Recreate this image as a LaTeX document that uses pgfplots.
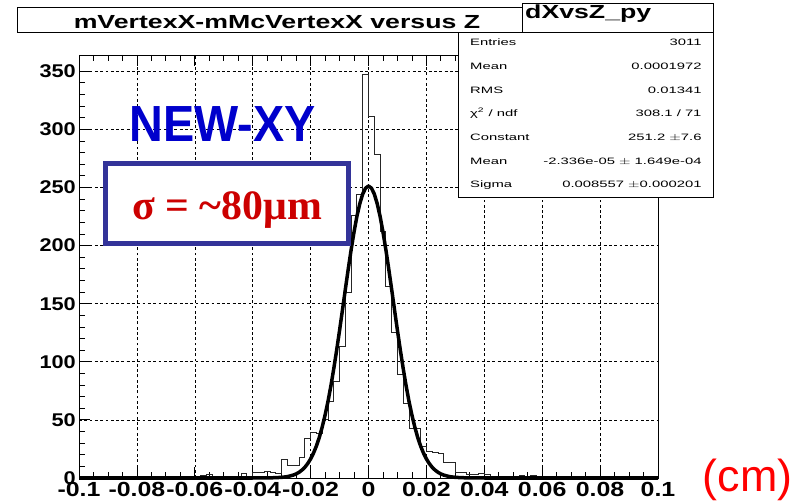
\documentclass[border=0pt]{standalone}
\usepackage{pgfplots}
\pgfplotsset{compat=1.18}
\usepackage{fontspec}
\usepackage{graphicx}
\setmainfont{Liberation Sans}
\newfontfamily\timesf{Liberation Serif}
\definecolor{boxblue}{RGB}{51,51,153}
\definecolor{newblue}{RGB}{0,0,204}
\definecolor{sigred}{RGB}{204,0,0}
\newcommand\xl[1]{\scalebox{1.22}[1]{#1}}
\newcommand\yl[1]{\scalebox{1.18}[1]{#1}}
\newcommand\st[1]{\scalebox{1.6}[1]{#1}}
\begin{document}
\begin{tikzpicture}
\path[use as bounding box] (0,0) rectangle (806bp,504bp);
\begin{axis}[
  at={(79bp,26bp)}, anchor=south west, scale only axis,
  width=579bp, height=423bp,
  xmin=-0.1, xmax=0.1, ymin=0, ymax=364,
  xtick={-0.1,-0.08,-0.06,-0.04,-0.02,0,0.02,0.04,0.06,0.08,0.1},
  xticklabels={\xl{-0.1},\xl{-0.08},\xl{-0.06},\xl{-0.04},\xl{-0.02},\xl{0},\xl{0.02},\xl{0.04},\xl{0.06},\xl{0.08},\xl{0.1}},
  ytick={0,50,100,150,200,250,300,350},
  yticklabels={\yl{0},\yl{50},\yl{100},\yl{150},\yl{200},\yl{250},\yl{300},\yl{350}},
  minor x tick num=3, minor y tick num=4,
  xticklabel style={font=\bfseries\fontsize{20.5}{20.5}\selectfont, inner sep=0pt, anchor=north, yshift=-3.7bp},
  yticklabel style={font=\bfseries\fontsize{18.5}{18.5}\selectfont, inner sep=0pt, anchor=east, xshift=-3bp},
  tick align=inside, ytick pos=left, xtick pos=both,
  major tick length=11bp, minor tick length=6bp,
  tick style={black, line width=0.8bp},
  axis line style={black, line width=0.8bp},
  grid=major,
  major grid style={black, dash pattern=on 2.8bp off 2.5bp, line width=0.6bp},
  clip=false,
]
\addplot[const plot mark left, black!85, line width=0.9bp, mark=none] coordinates {
(-0.100,0) (-0.058,2) (-0.056,3) (-0.054,0) (-0.052,1) (-0.050,1) (-0.048,0)
(-0.046,1) (-0.044,4) (-0.042,1) (-0.040,5) (-0.038,5) (-0.036,6) (-0.034,5)
(-0.032,4) (-0.030,16) (-0.028,11) (-0.026,11) (-0.024,18) (-0.022,34) (-0.020,39)
(-0.018,38) (-0.016,50) (-0.014,66) (-0.012,83) (-0.010,113) (-0.008,160)
(-0.006,226) (-0.004,244) (-0.002,347) (0.000,311) (0.002,278) (0.004,212)
(0.006,165) (0.008,125) (0.010,89) (0.012,64) (0.014,43) (0.016,43) (0.018,27)
(0.020,23) (0.022,22) (0.024,21) (0.026,13) (0.028,13) (0.030,5) (0.032,5)
(0.034,3) (0.036,3) (0.038,4) (0.040,3) (0.042,0) (0.044,1) (0.046,0) (0.050,1)
(0.052,2) (0.054,1) (0.056,2) (0.058,0) (0.074,1) (0.076,0) (0.100,0)
};
\addplot[black, line width=3.5bp, mark=none, line join=round] coordinates {
(-0.1,0) (-0.04,0) (-0.034,0.1) (-0.030,0.54) (-0.028,1.19) (-0.026,2.5) (-0.025,3.5)
(-0.024,4.9) (-0.023,6.8) (-0.022,9.2) (-0.021,12.4) (-0.020,16.4) (-0.019,21.4)
(-0.018,27.5) (-0.017,34.9) (-0.016,43.8) (-0.015,54.1) (-0.014,65.8) (-0.013,79.2)
(-0.012,94.0) (-0.011,110.0) (-0.010,126.9) (-0.009,144.5) (-0.008,162.3)
(-0.007,179.8) (-0.006,196.4) (-0.005,211.7) (-0.004,225.2) (-0.003,236.1)
(-0.002,244.4) (-0.001,249.5) (0,251.2)
(0.001,249.5) (0.002,244.4) (0.003,236.1) (0.004,225.2) (0.005,211.7) (0.006,196.4)
(0.007,179.8) (0.008,162.3) (0.009,144.5) (0.010,126.9) (0.011,110.0) (0.012,94.0)
(0.013,79.2) (0.014,65.8) (0.015,54.1) (0.016,43.8) (0.017,34.9) (0.018,27.5)
(0.019,21.4) (0.020,16.4) (0.021,12.4) (0.022,9.2) (0.023,6.8) (0.024,4.9)
(0.025,3.5) (0.026,2.5) (0.028,1.19) (0.030,0.54) (0.034,0.1) (0.04,0) (0.1,0)
};
\end{axis}
% NEW-XY label and sigma box
\node[anchor=base, text=newblue, font=\bfseries\fontsize{51}{51}\selectfont, inner sep=0pt] at (222.5bp,362bp) {\scalebox{0.92}[1]{NEW-XY}};
\draw[boxblue, line width=5bp, fill=white] (105.5bp,260bp) rectangle (348.5bp,340.7bp);
\node[anchor=base, text=sigred, font=\timesf\bfseries\fontsize{42}{42}\selectfont, inner sep=0pt] at (227bp,284bp) {σ = \textasciitilde80μm};
% unit
\node[anchor=base, text=red, font=\fontsize{45}{45}\selectfont, inner sep=0pt] at (747.5bp,13bp) {(cm)};
% title box
\draw[black, line width=0.8bp, fill=white] (17bp,472bp) rectangle (522bp,497bp);
\node[anchor=base, font=\bfseries\fontsize{19}{19}\selectfont, inner sep=0pt] at (277bp,475.7bp) {\scalebox{1.41}[1]{mVertexX-mMcVertexX versus Z}};
% stats box
\draw[black, line width=0.8bp, fill=white] (522bp,472bp) rectangle (713bp,501bp);
\node[anchor=base west, font=\bfseries\fontsize{19}{19}\selectfont, inner sep=0pt] at (525bp,485.7bp) {\scalebox{1.41}[1]{dXvsZ\_py}};
\draw[black, line width=0.8bp, fill=white] (458bp,307bp) rectangle (713bp,472bp);
\begin{scope}[every node/.style={font=\fontsize{9.3}{9.3}\selectfont, inner sep=0pt}]
\node[anchor=base west] at (470bp,458.3bp) {\st{Entries}};
\node[anchor=base east] at (701.7bp,458.3bp) {\st{3011}};
\node[anchor=base west] at (470bp,434.6bp) {\st{Mean}};
\node[anchor=base east] at (701.7bp,434.6bp) {\st{0.0001972}};
\node[anchor=base west] at (470bp,410.9bp) {\st{RMS}};
\node[anchor=base east] at (701.7bp,410.9bp) {\st{0.01341}};
\node[anchor=base west] at (470bp,387.2bp) {\st{χ\textsuperscript{2} / ndf}};
\node[anchor=base east] at (701.7bp,387.2bp) {\st{308.1 / 71}};
\node[anchor=base west] at (470bp,363.5bp) {\st{Constant}};
\node[anchor=base east] at (701.7bp,363.5bp) {\st{251.2 $\pm$7.6}};
\node[anchor=base west] at (470bp,339.8bp) {\st{Mean}};
\node[anchor=base east] at (701.7bp,339.8bp) {\st{-2.336e-05 $\pm$ 1.649e-04}};
\node[anchor=base west] at (470bp,316.1bp) {\st{Sigma}};
\node[anchor=base east] at (701.7bp,316.1bp) {\st{0.008557 $\pm$0.000201}};
\end{scope}
\end{tikzpicture}
\end{document}
